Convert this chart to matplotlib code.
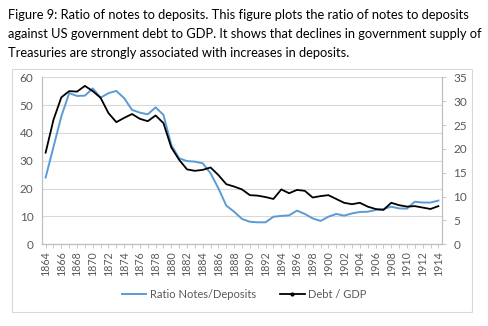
import numpy as np
import matplotlib
matplotlib.use('Agg')
import matplotlib.pyplot as plt
from matplotlib.patches import Rectangle
from matplotlib.lines import Line2D

plt.rcParams['font.family'] = ['Lato', 'DejaVu Sans']

years = list(range(1864, 1915))
ratio_notes_deposits = [
    24.0, 35.0, 46.0, 54.3, 53.3, 53.4, 56.0, 52.7, 54.3, 55.1,
    52.5, 48.3, 47.3, 46.7, 49.2, 46.5, 35.7, 30.9, 29.9, 29.7,
    29.1, 25.5, 20.1, 13.9, 11.7, 9.1, 8.1, 7.9, 7.9, 9.9,
    10.2, 10.4, 12.1, 10.9, 9.3, 8.4, 9.9, 10.9, 10.3, 11.1,
    11.6, 11.7, 12.3, 12.7, 13.5, 12.9, 12.8, 15.3, 15.0, 15.0,
    15.7,
]
debt_gdp = [
    19.2, 26.1, 30.8, 32.1, 32.0, 33.2, 32.1, 30.7, 27.5, 25.6,
    26.5, 27.3, 26.3, 25.8, 27.0, 25.4, 20.3, 17.7, 15.7, 15.4,
    15.6, 16.1, 14.5, 12.6, 12.1, 11.5, 10.3, 10.2, 9.9, 9.5,
    11.5, 10.7, 11.4, 11.2, 9.8, 10.1, 10.3, 9.5, 8.7, 8.4,
    8.7, 7.9, 7.4, 7.2, 8.7, 8.2, 7.9, 8.0, 7.7, 7.4,
    8.0,
]
title_lines = [
    "Figure 9: Ratio of notes to deposits. This figure plots the ratio of notes to deposits",
    "against US government debt to GDP. It shows that declines in government supply of",
    "Treasuries are strongly associated with increases in deposits.",
]

W, H = 488, 326
fig = plt.figure(figsize=(W / 100, H / 100), dpi=100)
renderer = fig.canvas.get_renderer()

# title text above the chart box, sized so the first line spans ~465 px
texts = []
for i, line in enumerate(title_lines):
    t = fig.text(8 / W, 1 - (15 + i * 19) / H, line, fontsize=10.6,
                 color='black', va='center', ha='left')
    texts.append(t)
w0 = texts[0].get_window_extent(renderer).width
fs = 10.6 * 465 / w0
for t in texts:
    t.set_fontsize(fs)

# chart border
fig.patches.append(Rectangle((12 / W, 1 - 312 / H), 460 / W, 243 / H,
                             transform=fig.transFigure, fill=False,
                             edgecolor='#d9d9d9', linewidth=0.8))

ax = fig.add_axes([41.7 / W, 1 - 244.3 / H, 400.6 / W, 167 / H])
ax2 = ax.twinx()

tick_col = '#595959'
ax.plot(years, ratio_notes_deposits, color='#5b9bd5', lw=1.4, zorder=3)
ax2.plot(years, debt_gdp, color='black', lw=1.3, zorder=3)

ax.set_xlim(1863.5, 1914.5)
ax.set_ylim(0, 60)
ax2.set_ylim(0, 35)
ax.set_yticks(range(0, 61, 10))
ax2.set_yticks(range(0, 36, 5))
ax.yaxis.grid(True, color='#d9d9d9', lw=0.8)
ax.set_axisbelow(True)

ax.set_xticks(years)
ax.set_xticklabels([str(y) if (y - 1864) % 2 == 0 else '' for y in years],
                   rotation=90, fontsize=7.7, color=tick_col)
ax.tick_params(axis='x', length=3, width=0.6, color='#bfbfbf', pad=2)
ax.tick_params(axis='y', length=0, labelsize=8.5, labelcolor=tick_col, pad=6)
ax2.tick_params(axis='y', length=3, width=0.6, color='#bfbfbf', labelsize=8.5,
                labelcolor=tick_col, pad=5)

for a in (ax, ax2):
    a.spines['top'].set_visible(False)
    for s in ('left', 'right', 'bottom'):
        a.spines[s].set_color('#bfbfbf')
        a.spines[s].set_linewidth(0.8)

handles = [Line2D([], [], color='#5b9bd5', lw=1.4),
           Line2D([], [], color='black', lw=1.3, marker='o', markersize=2)]
fig.legend(handles, ['Ratio Notes/Deposits', 'Debt / GDP'], loc='center',
           bbox_to_anchor=(244 / W, 1 - 294 / H), ncol=2, frameon=False,
           fontsize=8, handlelength=2.2, handletextpad=0.3, columnspacing=2.2,
           labelcolor=tick_col)

fig.savefig('out.png', dpi=100)
